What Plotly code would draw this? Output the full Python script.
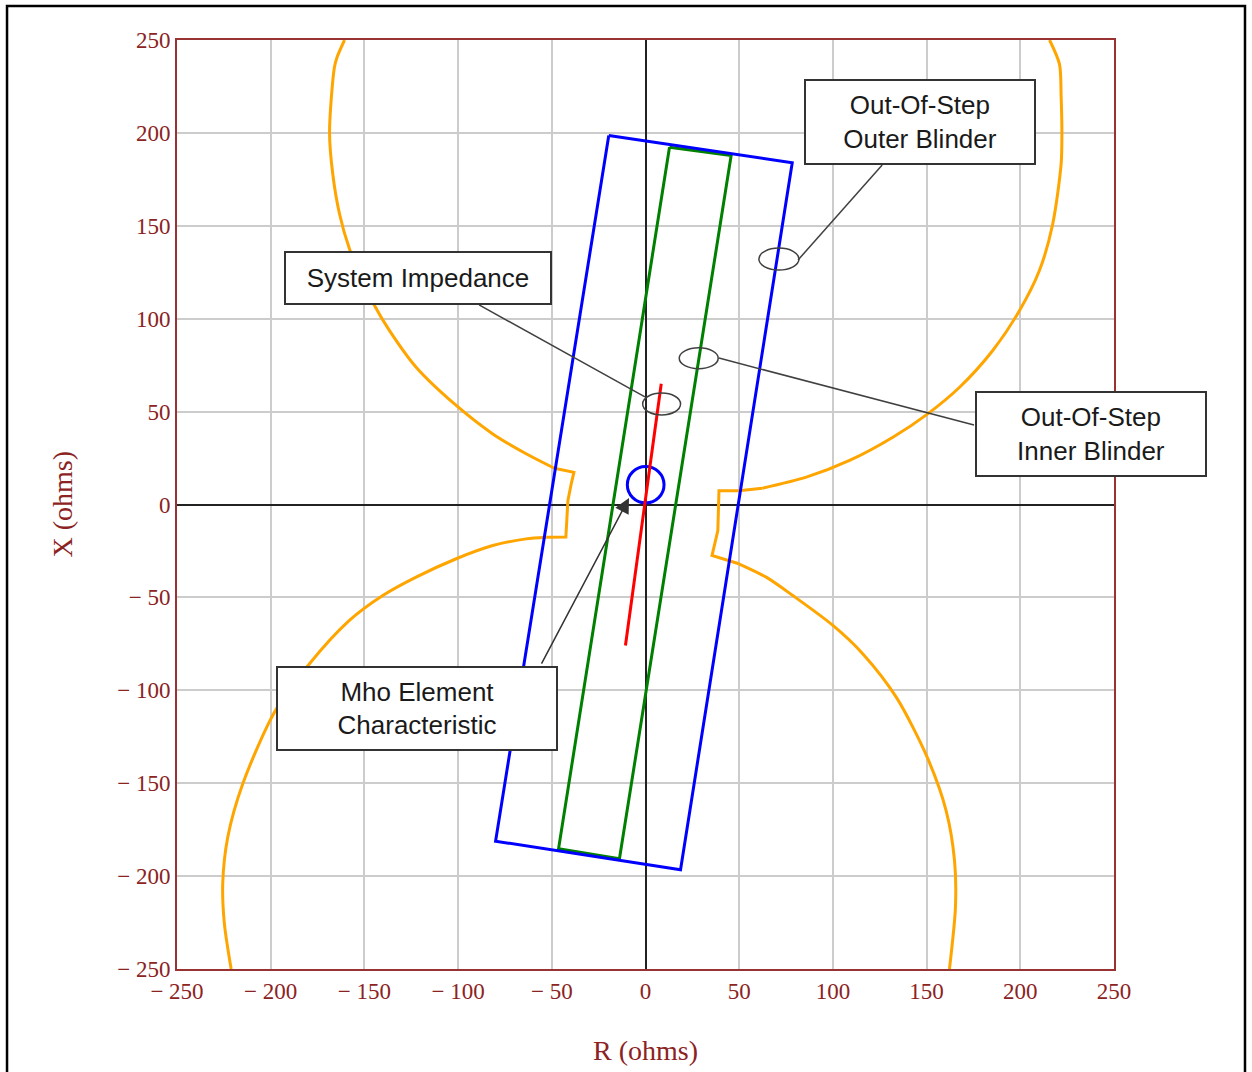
import plotly.graph_objects as go

# ---------------- data (ohms) ----------------
# Orange out-of-step characteristic: left branch (top -> bottom)
oos_left_r = [-160.6, -164.5, -166.0, -168.6, -166.9, -163.3, -158.0, -152.0, -144.6, -136.6,
              -122.4, -101.0, -81.5, -63.7, -48.6, -38.2, -39.6, -41.4, -42.5, -53.0,
              -63.7, -81.5, -101.0, -122.4, -140.2, -158.0, -179.3, -198.0, -214.9, -222.9,
              -225.6, -224.7, -221.1]
oos_left_x = [250.0, 241.0, 235.4, 200.4, 178.0, 156.5, 137.6, 123.0, 107.1, 93.6,
              73.9, 53.3, 38.0, 27.3, 19.5, 17.3, 11.3, 2.2, -17.5, -17.6,
              -18.5, -22.1, -29.2, -39.1, -49.0, -62.4, -85.7, -111.8, -150.3, -179.0,
              -204.1, -225.7, -250.0]
# Orange out-of-step characteristic: right branch (top -> bottom)
oos_right_r = [215.6, 220.9, 221.8, 222.2, 221.8, 217.3, 210.2, 199.6, 185.3, 167.6,
               150.6, 132.0, 108.9, 85.8, 62.3, 49.9, 39.2, 38.6, 35.5, 49.8,
               64.4, 78.6, 100.0, 116.0, 133.8, 150.3, 160.4, 164.9, 165.4, 162.2]
oos_right_x = [250.0, 237.0, 219.2, 200.0, 183.4, 151.0, 125.9, 104.4, 82.9, 63.1,
               48.8, 36.2, 23.7, 14.7, 8.7, 7.4, 7.4, -14.0, -27.4, -31.9,
               -39.1, -49.0, -65.1, -80.4, -103.7, -136.0, -164.7, -191.6, -216.7, -250.0]
# indices where the smooth arcs meet the straight notch segments
left_notch = (14, 19)
right_notch = (14, 19)

# Out-of-step outer blinder (blue quadrilateral)
outer_blinder_r = [-19.6, 78.3, 18.7, -80.0, -19.6]
outer_blinder_x = [198.6, 183.9, -196.6, -181.2, 198.6]

# Out-of-step inner blinder (green quadrilateral)
inner_blinder_r = [12.8, 45.7, -13.9, -46.4, 12.8]
inner_blinder_x = [192.3, 187.8, -190.7, -185.3, 192.3]

# System impedance (red line)
system_r = [-10.7, 8.4]
system_x = [-75.9, 65.0]

# Mho element characteristic (small blue circle)
mho_center_r = 0.1
mho_center_x = 10.6
mho_radius = 9.8

# Axis ticks
tick_vals = [-250, -200, -150, -100, -50, 0, 50, 100, 150, 200, 250]
tick_text = ["\u2212 250", "\u2212 200", "\u2212 150", "\u2212 100", "\u2212 50", "0",
             "50", "100", "150", "200", "250"]

# Callout texts
label_outer = "Out-Of-Step<br>Outer Blinder"
label_inner = "Out-Of-Step<br>Inner Blinder"
label_system = "System Impedance"
label_mho = "Mho Element<br>Characteristic"

# ---------------- figure ----------------
AX_COLOR = "#993333"
TXT_COLOR = "#8B2323"
ORANGE = "#FFA500"
LW = 3

fig = go.Figure()


def add_branch(rs, xs, notch):
    a, b = notch
    pieces = [(rs[:a + 1], xs[:a + 1], "spline"),
              (rs[a:b + 1], xs[a:b + 1], "linear"),
              (rs[b:], xs[b:], "spline")]
    for pr, px, shape in pieces:
        fig.add_trace(go.Scatter(x=pr, y=px, mode="lines",
                                 line=dict(color=ORANGE, width=LW, shape=shape, smoothing=0.8),
                                 hoverinfo="skip"))


add_branch(oos_left_r, oos_left_x, left_notch)
add_branch(oos_right_r, oos_right_x, right_notch)

fig.add_trace(go.Scatter(x=inner_blinder_r, y=inner_blinder_x, mode="lines",
                         line=dict(color="#008000", width=LW), hoverinfo="skip"))
fig.add_trace(go.Scatter(x=outer_blinder_r, y=outer_blinder_x, mode="lines",
                         line=dict(color="#0000FF", width=LW), hoverinfo="skip"))
fig.add_trace(go.Scatter(x=system_r, y=system_x, mode="lines",
                         line=dict(color="#FF0000", width=LW), hoverinfo="skip"))

shapes = []
# mho circle
shapes.append(dict(type="circle", xref="x", yref="y",
                   x0=mho_center_r - mho_radius, x1=mho_center_r + mho_radius,
                   y0=mho_center_x - mho_radius, y1=mho_center_x + mho_radius,
                   line=dict(color="#0000FF", width=LW), layer="between"))

LEAD = dict(color="#404040", width=1.5)
# callout ellipses (R center, X center, R half-width, X half-height)
for (cr, cx, hr, hx) in [(71.2, 132.1, 10.7, 5.9), (8.6, 54.1, 10.1, 5.9), (28.4, 78.7, 10.4, 5.6)]:
    shapes.append(dict(type="circle", xref="x", yref="y", x0=cr - hr, x1=cr + hr,
                       y0=cx - hx, y1=cx + hx, line=LEAD, layer="above"))
# leader lines
for (r0, x0, r1, x1) in [(126.3, 182.7, 81.4, 131.6), (-88.8, 107.4, -0.3, 57.9),
                         (175.3, 42.8, 39.2, 78.8)]:
    shapes.append(dict(type="line", xref="x", yref="y", x0=r0, y0=x0, x1=r1, y1=x1,
                       line=LEAD, layer="above"))
# outer frame of the image
shapes.append(dict(type="rect", xref="paper", yref="paper", x0=-0.1814, x1=1.1398,
                   y0=-0.2, y1=1.0366, line=dict(color="black", width=2.5), layer="above"))

BOX_FONT = dict(family="Liberation Sans, Arial, sans-serif", size=26, color="#1a1a1a")
annotations = []
for (txt, cr, cx, w, h) in [(label_outer, 146.5, 205.9, 232, 86),
                            (label_system, -121.4, 121.9, 268, 54),
                            (label_inner, 237.7, 37.9, 232, 86),
                            (label_mho, -121.9, -109.8, 282, 85)]:
    annotations.append(dict(text=txt, x=cr, y=cx, xref="x", yref="y", showarrow=False,
                            width=w - 4, height=h - 4, borderpad=0, borderwidth=2,
                            bordercolor="#333333", bgcolor="white", font=BOX_FONT,
                            align="center", valign="middle", xanchor="center", yanchor="middle"))
# mho arrow
annotations.append(dict(text="", x=-8.8, y=3.5, ax=-55.9, ay=-86.4, xref="x", yref="y",
                        axref="x", ayref="y", showarrow=True, arrowhead=2, arrowsize=2.0,
                        arrowwidth=1.5, arrowcolor="#333333"))
# axis titles
AXT_FONT = dict(family="Liberation Serif, Times New Roman, serif", size=28, color=TXT_COLOR)
annotations.append(dict(text="R (ohms)", x=0.5, y=-0.0872, xref="paper", yref="paper",
                        showarrow=False, font=AXT_FONT, xanchor="center", yanchor="middle"))
annotations.append(dict(text="X (ohms)", x=-0.1227, y=0.5, xref="paper", yref="paper",
                        showarrow=False, font=AXT_FONT, textangle=-90,
                        xanchor="center", yanchor="middle"))

axis_common = dict(range=[-250, 250], tickmode="array", tickvals=tick_vals, ticktext=tick_text,
                   showgrid=True, gridcolor="#CCCCCC", gridwidth=2,
                   zeroline=True, zerolinecolor="#222222", zerolinewidth=2,
                   showline=True, mirror=True, linecolor=AX_COLOR, linewidth=2,
                   ticks="", fixedrange=True,
                   tickfont=dict(family="Liberation Serif, Times New Roman, serif",
                                 size=23, color=TXT_COLOR))

fig.update_layout(width=1252, height=1072, margin=dict(l=177, r=138, t=40, b=103),
                  plot_bgcolor="white", paper_bgcolor="white", showlegend=False,
                  xaxis=axis_common, yaxis=axis_common,
                  shapes=shapes, annotations=annotations)

fig.write_html("out.html", include_plotlyjs=True, config={"displayModeBar": False},
               post_script="document.body.style.margin='0px';document.body.style.overflow='hidden';")
